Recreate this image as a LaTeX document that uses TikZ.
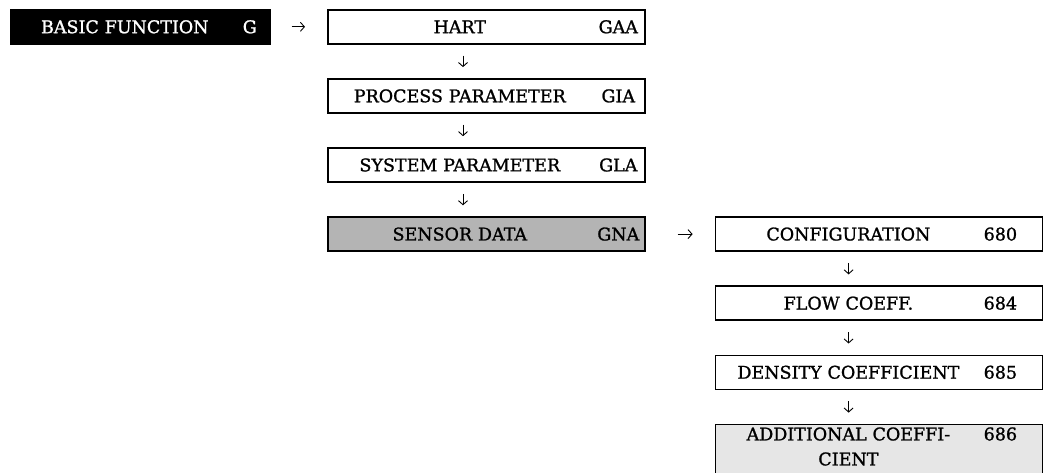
\documentclass[tikz,border=0pt]{standalone}
\usepackage{fontspec}
\setmainfont[FakeBold=1.2,AutoFakeBold=1.2]{DejaVu Serif}
\usepackage{tikz}
\usetikzlibrary{arrows.meta, positioning}

\definecolor{selgray}{RGB}{180,180,180}
\definecolor{lightsel}{RGB}{230,230,230}

% label column and code column of one menu row
\newcommand{\rowtxt}[4]{\parbox[t]{#1}{\centering #2}\parbox[t]{#3}{\centering #4}}

\tikzset{
    menu/.style={draw, line width=1.6pt, inner xsep=0pt, inner ysep=0pt,
        minimum height=34pt, align=left},
    midmenu/.style={menu, text width=317pt},
    rightmenu/.style={menu, text width=327pt},
    step arrow/.style={->, line width=0.9pt, shorten <=11pt, shorten >=11pt}
}

\begin{document}
\begin{tikzpicture}[x=1pt, y=-1pt, >={Straight Barb[length=4pt, width=9pt]},
    node distance=33.5pt, every node/.style={font=\fontsize{17.5pt}{25pt}\selectfont\bfseries}]
    \useasboundingbox (0,0) rectangle (1047,473);

    % Nodes
    \node[menu, fill=black, text=white, text width=259pt, anchor=north west] (basic) at (10,9)
        {\rowtxt{228pt}{BASIC FUNCTION}{22pt}{G}};
    \node[midmenu, anchor=north west] (hart) at (327,9)
        {\rowtxt{264pt}{HART}{53pt}{GAA}};
    \node[midmenu, below=of hart] (procpar)
        {\rowtxt{264pt}{PROCESS PARAMETER}{53pt}{GIA}};
    \node[midmenu, below=of procpar] (syspar)
        {\rowtxt{264pt}{SYSTEM PARAMETER}{53pt}{GLA}};
    \node[midmenu, fill=selgray, below=of syspar] (sensor)
        {\rowtxt{264pt}{SENSOR DATA}{53pt}{GNA}};
    \node[rightmenu, right=69pt of sensor] (config)
        {\rowtxt{266pt}{CONFIGURATION}{38pt}{680}};
    \node[rightmenu, below=of config] (flow)
        {\rowtxt{266pt}{FLOW COEFF.}{38pt}{684}};
    \node[rightmenu, below=of flow] (density)
        {\rowtxt{266pt}{DENSITY COEFFICIENT}{38pt}{685}};
    \node[rightmenu, fill=lightsel, text height=15pt, text depth=42pt, inner ysep=1pt,
        below=of density] (addcoef)
        {\rowtxt{266pt}{ADDITIONAL COEFFI-\\CIENT}{38pt}{686}};

    % Arrows
    \draw[->, line width=0.9pt, shorten <=21pt, shorten >=22pt] (basic) -- (hart);
    \draw[->, line width=0.9pt, shorten <=32pt, shorten >=22pt] (sensor) -- (config);
    \draw[step arrow] ([xshift=136pt]hart.south west) -- ([xshift=136pt]procpar.north west);
    \draw[step arrow] ([xshift=136pt]procpar.south west) -- ([xshift=136pt]syspar.north west);
    \draw[step arrow] ([xshift=136pt]syspar.south west) -- ([xshift=136pt]sensor.north west);
    \draw[step arrow] ([xshift=134pt]config.south west) -- ([xshift=134pt]flow.north west);
    \draw[step arrow] ([xshift=134pt]flow.south west) -- ([xshift=134pt]density.north west);
    \draw[step arrow] ([xshift=134pt]density.south west) -- ([xshift=134pt]addcoef.north west);
\end{tikzpicture}
\end{document}
